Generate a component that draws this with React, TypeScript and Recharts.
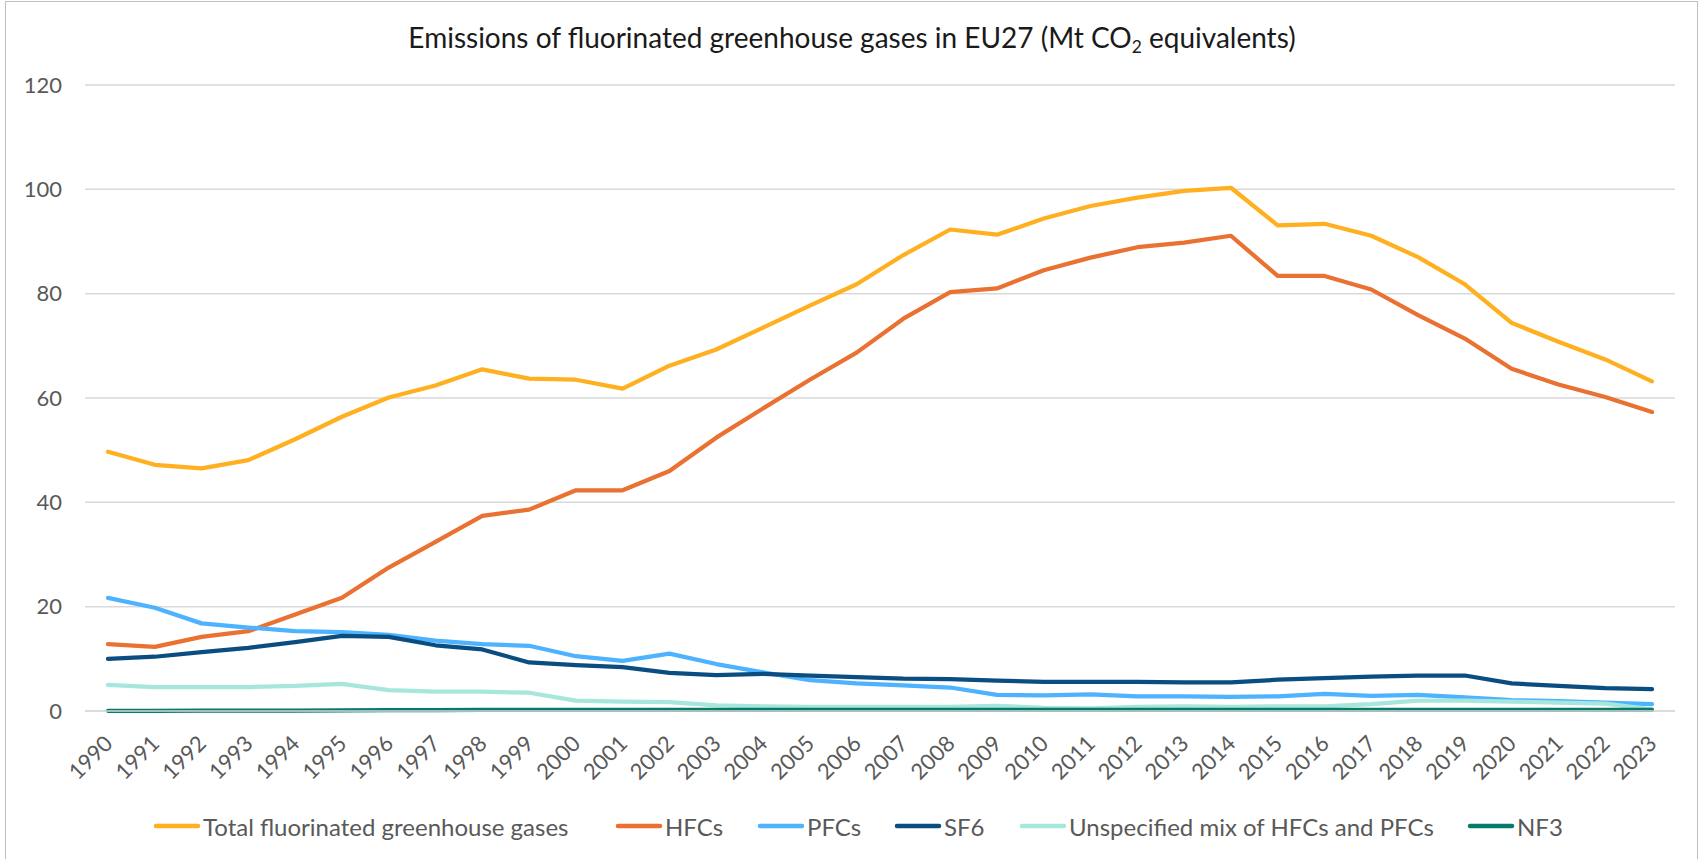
import React from 'react';
import { LineChart, Line, XAxis, YAxis, CartesianGrid } from 'recharts';

const years = ['1990','1991','1992','1993','1994','1995','1996','1997','1998','1999','2000','2001','2002','2003','2004','2005','2006','2007','2008','2009','2010','2011','2012','2013','2014','2015','2016','2017','2018','2019','2020','2021','2022','2023'];

const total = [49.7, 47.2, 46.5, 48.1, 52.1, 56.4, 60.1, 62.4, 65.5, 63.7, 63.5, 61.8, 66.2, 69.3, 73.5, 77.7, 81.8, 87.4, 92.3, 91.3, 94.4, 96.8, 98.4, 99.7, 100.3, 93.1, 93.4, 91.1, 87.0, 81.8, 74.4, 70.8, 67.4, 63.2];
const hfcs = [12.8, 12.3, 14.2, 15.3, 18.5, 21.7, 27.5, 32.4, 37.4, 38.6, 42.3, 42.3, 46.0, 52.4, 58.0, 63.5, 68.7, 75.2, 80.3, 81.0, 84.5, 86.9, 88.9, 89.8, 91.1, 83.4, 83.4, 80.8, 75.9, 71.4, 65.6, 62.6, 60.2, 57.3];
const pfcs = [21.7, 19.8, 16.8, 16.0, 15.3, 15.1, 14.6, 13.5, 12.8, 12.5, 10.5, 9.6, 11.0, 9.0, 7.4, 5.9, 5.3, 4.9, 4.5, 3.1, 3.0, 3.2, 2.8, 2.8, 2.7, 2.8, 3.3, 2.9, 3.1, 2.6, 2.1, 1.9, 1.6, 1.3];
const sf6 = [10.0, 10.4, 11.3, 12.1, 13.2, 14.4, 14.2, 12.6, 11.8, 9.3, 8.8, 8.4, 7.3, 6.9, 7.1, 6.8, 6.5, 6.2, 6.1, 5.8, 5.6, 5.6, 5.6, 5.5, 5.5, 6.0, 6.3, 6.6, 6.8, 6.8, 5.3, 4.8, 4.4, 4.2];
const mix = [5.0, 4.6, 4.6, 4.6, 4.8, 5.2, 4.0, 3.7, 3.7, 3.5, 2.0, 1.8, 1.7, 1.1, 0.9, 0.8, 0.8, 0.8, 0.8, 1.0, 0.6, 0.5, 0.8, 0.9, 0.8, 0.9, 0.9, 1.3, 2.0, 2.0, 1.8, 1.6, 1.4, 0.3];
const nf3 = [0.03, 0.04, 0.05, 0.06, 0.08, 0.12, 0.16, 0.18, 0.2, 0.2, 0.2, 0.2, 0.2, 0.2, 0.2, 0.2, 0.2, 0.2, 0.2, 0.2, 0.2, 0.2, 0.2, 0.2, 0.2, 0.2, 0.2, 0.2, 0.2, 0.2, 0.2, 0.2, 0.2, 0.2];

const yTicks = [0, 20, 40, 60, 80, 100, 120];

const seriesDefs = [
  { key: 'total', name: 'Total fluorinated greenhouse gases', color: '#FFB020' },
  { key: 'hfcs', name: 'HFCs', color: '#E97132' },
  { key: 'pfcs', name: 'PFCs', color: '#4DB3FF' },
  { key: 'sf6', name: 'SF6', color: '#0A4D80' },
  { key: 'mix', name: 'Unspecified mix of HFCs and PFCs', color: '#A6E6DC' },
  { key: 'nf3', name: 'NF3', color: '#087A6A' },
];

// legend entry left edges (layout styling)
const legendLefts = [153, 615, 757, 894, 1019, 1467];

const data = years.map((y, i) => ({
  year: y,
  total: total[i],
  hfcs: hfcs[i],
  pfcs: pfcs[i],
  sf6: sf6[i],
  mix: mix[i],
  nf3: nf3[i],
}));

const FONT = 'Lato, "Noto Sans", sans-serif';
const TEXT = '#595959';

const XTick = (props: any) => {
  const { x, y, payload } = props;
  const tx = x + 6;
  const ty = y + 34;
  return (
    <text x={tx} y={ty} transform={`rotate(-45, ${tx}, ${ty})`} textAnchor="end" fill={TEXT} fontSize={22} fontFamily={FONT}>
      {payload.value}
    </text>
  );
};

export default function App() {
  return (
    <div style={{ position: 'absolute', left: 0, top: 0, width: 1704, height: 859, background: '#fff', overflow: 'hidden', fontFamily: FONT }}>
      <div style={{ position: 'absolute', left: 5, top: 1, width: 1693, height: 900, border: '1px solid #BFBFBF', boxSizing: 'border-box' }} />
      <div style={{ position: 'absolute', left: 0, top: 20, width: 1704, textAlign: 'center', fontSize: 28, color: '#1a1a1a', lineHeight: '34px' }}>
        Emissions of fluorinated greenhouse gases in EU27 (Mt CO<sub style={{ fontSize: '0.62em', verticalAlign: '-0.3em', lineHeight: 0 }}>2</sub> equivalents)
      </div>
      <div style={{ position: 'absolute', left: 0, top: 0 }}>
        <LineChart width={1704} height={859} data={data} margin={{ top: 85, right: 29, left: 15, bottom: 88 }}>
          <CartesianGrid vertical={false} stroke="#D9D9D9" strokeWidth={1.5} />
          <XAxis
            dataKey="year"
            height={60}
            interval={0}
            padding={{ left: 23, right: 23 }}
            tickLine={false}
            tickSize={0}
            tickMargin={0}
            axisLine={{ stroke: '#D9D9D9', strokeWidth: 1.5 }}
            tick={<XTick />}
          />
          <YAxis
            width={70}
            domain={[0, 120]}
            ticks={yTicks}
            tickLine={false}
            axisLine={false}
            tickSize={0}
            tickMargin={23}
            tick={{ fill: TEXT, fontSize: 22, fontFamily: FONT }}
          />
          {seriesDefs.map((s) => (
            <Line
              key={s.key}
              type="linear"
              dataKey={s.key}
              name={s.name}
              stroke={s.color}
              strokeWidth={4.25}
              strokeLinecap="round"
              strokeLinejoin="round"
              dot={false}
              activeDot={false}
              isAnimationActive={false}
            />
          ))}
        </LineChart>
      </div>
      {seriesDefs.map((s, i) => (
        <div key={s.key} style={{ position: 'absolute', left: legendLefts[i], top: 811, height: 30, display: 'flex', alignItems: 'center' }}>
          <svg width={48} height={10} style={{ marginRight: 2 }}>
            <line x1={3} y1={5} x2={45} y2={5} stroke={s.color} strokeWidth={4.5} strokeLinecap="round" />
          </svg>
          <span style={{ fontSize: 24, color: TEXT, whiteSpace: 'nowrap' }}>{s.name}</span>
        </div>
      ))}
    </div>
  );
}
